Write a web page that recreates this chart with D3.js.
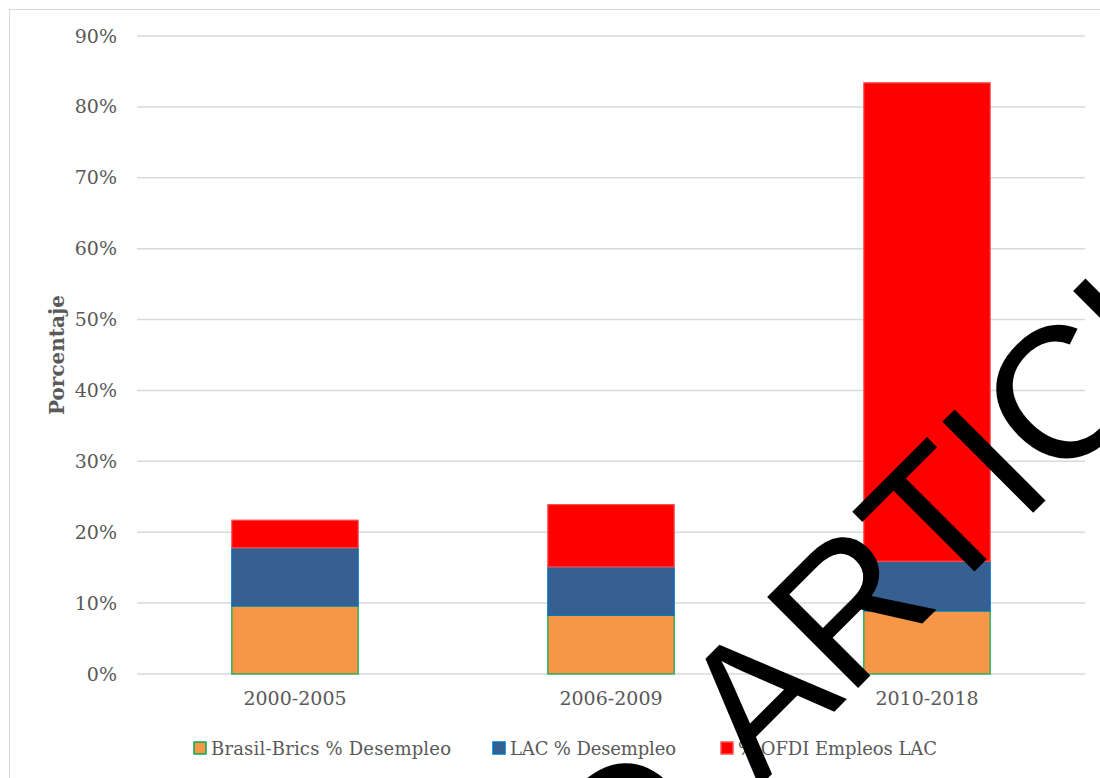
<!DOCTYPE html>
<html>
<head>
<meta charset="utf-8">
<script src="https://cdn.jsdelivr.net/npm/d3@7/dist/d3.min.js"></script>
<style>
  html, body { margin: 0; padding: 0; background: #fff; }
  svg { display: block; }
</style>
</head>
<body>
<script>
// ---- data ----
const categories = ["2000-2005", "2006-2009", "2010-2018"];
const seriesNames = ["Brasil-Brics % Desempleo", "LAC % Desempleo", "% OFDI Empleos LAC"];
const brasilBrics = [0.096, 0.083, 0.089];
const lacDesempleo = [0.082, 0.068, 0.070];
const ofdiEmpleos = [0.039, 0.088, 0.675];
const yTicks = [0, 0.1, 0.2, 0.3, 0.4, 0.5, 0.6, 0.7, 0.8, 0.9];
const yTitle = "Porcentaje";
const watermarkA = "ARTICLE";
const watermarkB = "RETRACTED";

const fills = ["#F79646", "#376092", "#FF0000"];
const strokes = ["#00B050", "#0070C0", "#FF5050"];

const W = 1100, H = 778;
const svg = d3.select("body").append("svg").attr("width", W).attr("height", H);

// chart frame
svg.append("rect").attr("x", 9.5).attr("y", 9.5).attr("width", 1200).attr("height", 1000)
  .attr("fill", "#fff").attr("stroke", "#D9D9D9").attr("stroke-width", 1);

const plot = { left: 137, right: 1085, top: 36, bottom: 674 };

const y = d3.scaleLinear().domain([0, 0.9]).range([plot.bottom, plot.top]);
const x = d3.scaleBand().domain(categories).range([plot.left, plot.right])
  .paddingInner(0.6).paddingOuter(0.3);

// gridlines
svg.append("g").selectAll("line").data(yTicks).join("line")
  .attr("x1", plot.left).attr("x2", plot.right)
  .attr("y1", d => y(d)).attr("y2", d => y(d))
  .attr("stroke", "#D9D9D9").attr("stroke-width", 1.5);

// y axis labels
const yAxis = d3.axisLeft(y).tickValues(yTicks).tickFormat(d3.format(".0%")).tickSize(0).tickPadding(20);
const gy = svg.append("g").attr("transform", `translate(${plot.left},0)`).call(yAxis);
gy.select(".domain").remove();
gy.selectAll("text").attr("font-family", "DejaVu Serif").attr("font-size", 19).attr("fill", "#595959");

// x axis labels
const xAxis = d3.axisBottom(x).tickSize(0).tickPadding(18);
const gx = svg.append("g").attr("transform", `translate(0,${plot.bottom})`).call(xAxis);
gx.select(".domain").remove();
gx.selectAll("text").attr("font-family", "DejaVu Serif").attr("font-size", 19).attr("fill", "#595959");

// y title
svg.append("text")
  .attr("transform", `translate(64,${(plot.top + plot.bottom) / 2}) rotate(-90)`)
  .attr("text-anchor", "middle")
  .attr("font-family", "DejaVu Serif").attr("font-weight", "bold").attr("font-size", 20)
  .attr("fill", "#595959").text(yTitle);

// stacked bars
const table = categories.map((c, i) => ({
  cat: c, s0: brasilBrics[i], s1: lacDesempleo[i], s2: ofdiEmpleos[i]
}));
const stack = d3.stack().keys(["s0", "s1", "s2"]);
const layers = stack(table);

svg.append("g").selectAll("g").data(layers).join("g")
  .attr("fill", (d, i) => fills[i])
  .attr("stroke", (d, i) => strokes[i])
  .attr("stroke-width", 1.2)
  .selectAll("rect").data(d => d).join("rect")
  .attr("x", d => x(d.data.cat))
  .attr("width", x.bandwidth())
  .attr("y", d => y(d[1]))
  .attr("height", d => y(d[0]) - y(d[1]));

// legend
const legendX = [194, 493, 721];
const legendW = [240, 166, 199];
const legendY = 748.5;
const lg = svg.append("g");
seriesNames.forEach((name, i) => {
  lg.append("rect").attr("x", legendX[i]).attr("y", legendY - 6.5).attr("width", 12).attr("height", 12)
    .attr("fill", fills[i]).attr("stroke", strokes[i]).attr("stroke-width", 1.5);
  lg.append("text").attr("x", legendX[i] + 17).attr("y", legendY).attr("dy", "0.35em")
    .attr("font-family", "DejaVu Serif").attr("font-size", 18).attr("fill", "#595959")
    .attr("textLength", legendW[i]).attr("lengthAdjust", "spacing")
    .text(name);
});

// watermark
const wm = svg.append("g").attr("transform", "translate(759,787) rotate(-45)")
  .attr("font-family", "Liberation Sans").attr("font-size", 187).attr("fill", "#000");
wm.append("text").attr("x", 0).attr("y", 0).text(watermarkA);
wm.append("text").attr("x", -52).attr("y", 0).attr("text-anchor", "end").text(watermarkB);
</script>
</body>
</html>
